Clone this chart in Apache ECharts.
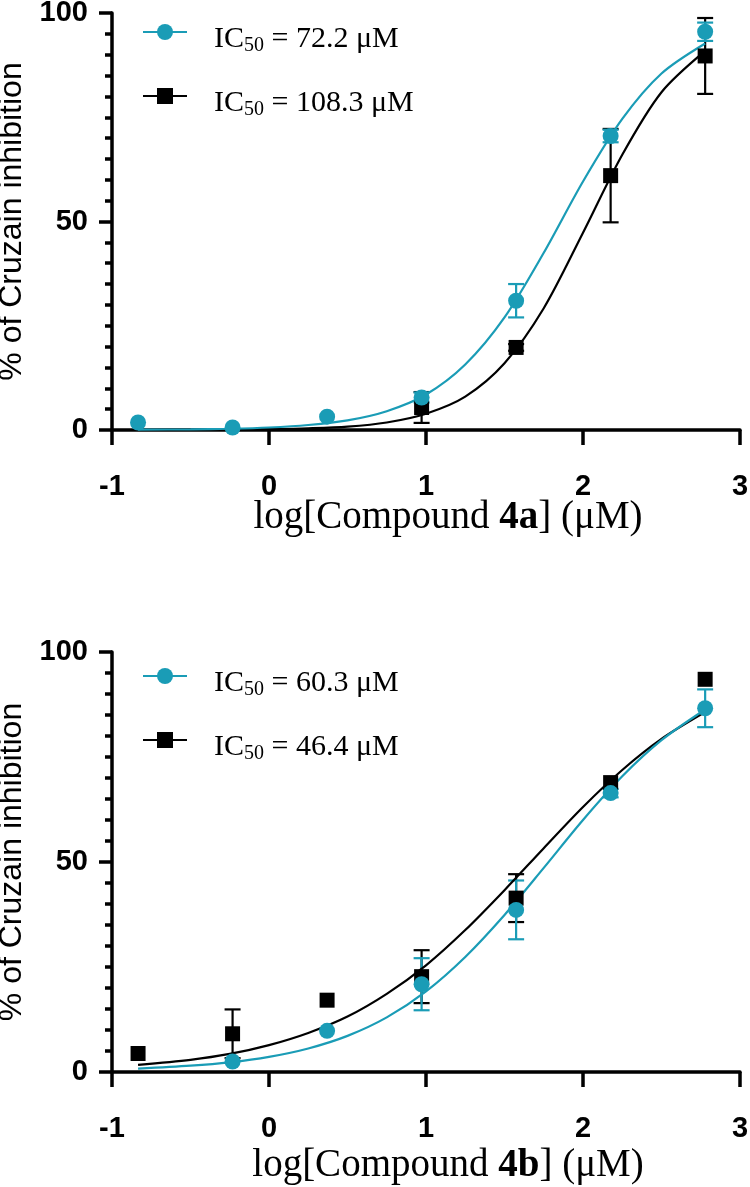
<!DOCTYPE html>
<html>
<head>
<meta charset="utf-8">
<script src="https://cdn.jsdelivr.net/npm/echarts@6/dist/echarts.min.js"></script>
<style>
  html, body { margin: 0; padding: 0; background: #fff; }
  #main { width: 750px; height: 1187px; }
</style>
</head>
<body>
<div id="main"></div>
<script>
// log10 of the tested concentrations (uM)
const logConc = [-0.834, -0.232, 0.370, 0.972, 1.574, 2.176, 2.778]

// compound 4a
const aCyan = [1.8, 0.6, 3.2, 7.8, 31.0, 70.5, 95.5]
const aCyanErr = [0, 0, 0, 1.2, 4.0, 1.5, 2.2]
const aBlack = [null, null, null, 5.4, 19.8, 61.0, 89.7]
const aBlackErr = [0, 0, 0, 3.7, 0.8, 11.2, 9.1]

// compound 4b
const bCyan = [null, 2.5, 9.8, 20.9, 38.6, 66.4, 86.6]
const bCyanErr = [0, 0, 0, 6.2, 7.0, 1.0, 4.5]
const bBlack = [4.4, 9.1, 17.1, 22.7, 41.4, 68.9, 93.5]
const bBlackErr = [0, 5.8, 0, 6.3, 5.7, 0, 0]

// fitted curves
const curveX = [-0.834, -0.5, -0.25, 0, 0.25, 0.5, 0.75, 1.0, 1.25, 1.5, 1.75, 2.0, 2.25, 2.5, 2.778]
const aCyanFit = [0.1, 0.15, 0.3, 0.6, 1.2, 2.3, 4.5, 8.5, 15.7, 27.0, 42.5, 59.6, 74.6, 85.5, 92.7]
const aBlackFit = [0.0, 0.05, 0.08, 0.2, 0.4, 0.8, 1.8, 3.9, 8.0, 16.0, 29.2, 47.3, 66.0, 81.0, 90.9]
const bCyanFit = [0.8, 1.5, 2.3, 3.6, 5.6, 8.6, 13.0, 19.2, 27.4, 37.4, 48.6, 60.0, 70.4, 79.0, 86.3]
const bBlackFit = [1.7, 2.9, 4.3, 6.4, 9.3, 13.2, 18.6, 25.4, 33.8, 43.3, 53.3, 63.1, 71.9, 79.3, 85.7]

const xTicks = [-1, 0, 1, 2, 3]
const yTicks = [0, 50, 100]
const legendA = ['IC50 = 72.2 μM', 'IC50 = 108.3 μM']
const legendB = ['IC50 = 60.3 μM', 'IC50 = 46.4 μM']

const CYAN = '#1a9cb6'
const BLACK = '#000000'
const SANS = 'Liberation Sans, Arial, sans-serif'
const SERIF = 'Liberation Serif, Times New Roman, serif'

let chart = echarts.init(document.getElementById('main'), null, { renderer: 'canvas' })

function points(xs, ys) {
  return xs.map((x, i) => [x, ys[i]]).filter(p => p[1] != null)
}
function errPoints(ys, errs) {
  return logConc.map((x, i) => [x, ys[i], errs[i]]).filter(p => p[1] != null && p[2] > 0)
}

function renderErrorBar(params, api) {
  let x = api.value(0)
  let y = api.value(1)
  let e = api.value(2)
  let top = api.coord([x, y + e])
  let bottom = api.coord([x, y - e])
  let half = 8
  let style = { stroke: api.visual('color'), lineWidth: 2.2 }
  return {
    type: 'group',
    children: [
      { type: 'line', shape: { x1: top[0], y1: top[1], x2: bottom[0], y2: bottom[1] }, style: style },
      { type: 'line', shape: { x1: top[0] - half, y1: top[1], x2: top[0] + half, y2: top[1] }, style: style },
      { type: 'line', shape: { x1: bottom[0] - half, y1: bottom[1], x2: bottom[0] + half, y2: bottom[1] }, style: style }
    ]
  }
}

function xAxisFor(gridIndex, compound, gap) {
  return {
    type: 'value',
    gridIndex: gridIndex,
    min: xTicks[0],
    max: xTicks[xTicks.length - 1],
    interval: 1,
    splitLine: { show: false },
    axisLine: { onZero: false, lineStyle: { color: BLACK, width: 3.5 } },
    axisTick: { length: 15, lineStyle: { color: BLACK, width: 3.5 } },
    axisLabel: { margin: 42, color: BLACK, fontFamily: SANS, fontWeight: 'bold', fontSize: 29 },
    name: '{n|log[Compound }{b|' + compound + '}{n|] (μM)}',
    nameLocation: 'middle',
    nameGap: gap,
    nameMoveOverlap: false,
    nameTextStyle: {
      padding: [0, 0, 0, 44],
      rich: {
        n: { fontFamily: SERIF, fontSize: 39, color: BLACK },
        b: { fontFamily: SERIF, fontSize: 39, fontWeight: 'bold', color: BLACK }
      }
    }
  }
}

function yAxisFor(gridIndex) {
  return {
    type: 'value',
    gridIndex: gridIndex,
    min: yTicks[0],
    max: yTicks[yTicks.length - 1],
    interval: 50,
    splitLine: { show: false },
    axisLine: { show: true, onZero: false, lineStyle: { color: BLACK, width: 3.5 } },
    axisTick: { show: true, length: 13, lineStyle: { color: BLACK, width: 3.5 } },
    minorTick: { show: true, splitNumber: 10, length: 7, lineStyle: { color: BLACK, width: 3.5 } },
    axisLabel: { margin: 24, color: BLACK, fontFamily: SANS, fontWeight: 'bold', fontSize: 29 },
    name: '% of Cruzain inhibition',
    nameLocation: 'middle',
    nameGap: 84,
    nameMoveOverlap: false,
    nameTextStyle: { fontFamily: SANS, fontSize: 32, color: BLACK }
  }
}

function legendFor(names, top) {
  return {
    data: names,
    orient: 'vertical',
    left: 142,
    top: top,
    padding: 0,
    itemGap: 32,
    itemWidth: 44,
    itemHeight: 20,
    selectedMode: false,
    formatter: function (name) {
      return '{n|IC}{s|50}{n|' + name.slice(4) + '}'
    },
    textStyle: {
      padding: [14, 0, 0, 22],
      rich: {
        n: { fontFamily: SERIF, fontSize: 30, lineHeight: 34, color: BLACK },
        s: { fontFamily: SERIF, fontSize: 20, verticalAlign: 'bottom', color: BLACK }
      }
    }
  }
}

function curveSeries(name, idx, fit, color, symbol) {
  return {
    name: name,
    type: 'line',
    xAxisIndex: idx,
    yAxisIndex: idx,
    data: points(curveX, fit),
    smooth: 0.3,
    symbol: symbol,
    symbolSize: 16,
    showSymbol: false,
    color: color,
    lineStyle: { color: color, width: 2.2 },
    z: 3
  }
}

function pointSeries(idx, ys, color, symbol, size) {
  return {
    type: 'scatter',
    xAxisIndex: idx,
    yAxisIndex: idx,
    data: points(logConc, ys),
    symbol: symbol,
    symbolSize: size,
    itemStyle: { color: color, opacity: 1 },
    z: 4
  }
}

function errorSeries(idx, ys, errs, color) {
  return {
    type: 'custom',
    xAxisIndex: idx,
    yAxisIndex: idx,
    data: errPoints(ys, errs),
    renderItem: renderErrorBar,
    itemStyle: { color: color },
    z: 2
  }
}

let option = {
  animation: false,
  backgroundColor: '#ffffff',
  grid: [
    { left: 112, right: 10, top: 13, height: 417, outerBoundsMode: 'none' },
    { left: 112, right: 10, top: 652, height: 420, outerBoundsMode: 'none' }
  ],
  xAxis: [xAxisFor(0, '4a', 68), xAxisFor(1, '4b', 74)],
  yAxis: [yAxisFor(0), yAxisFor(1)],
  legend: [legendFor(legendA, 24), legendFor(legendB, 668)],
  series: [
    errorSeries(0, aBlack, aBlackErr, BLACK),
    curveSeries(legendA[1], 0, aBlackFit, BLACK, 'rect'),
    pointSeries(0, aBlack, BLACK, 'rect', 15),
    errorSeries(0, aCyan, aCyanErr, CYAN),
    curveSeries(legendA[0], 0, aCyanFit, CYAN, 'circle'),
    pointSeries(0, aCyan, CYAN, 'circle', 16),

    errorSeries(1, bBlack, bBlackErr, BLACK),
    curveSeries(legendB[1], 1, bBlackFit, BLACK, 'rect'),
    pointSeries(1, bBlack, BLACK, 'rect', 15),
    errorSeries(1, bCyan, bCyanErr, CYAN),
    curveSeries(legendB[0], 1, bCyanFit, CYAN, 'circle'),
    pointSeries(1, bCyan, CYAN, 'circle', 16)
  ]
}

chart.setOption(option)
</script>
</body>
</html>
